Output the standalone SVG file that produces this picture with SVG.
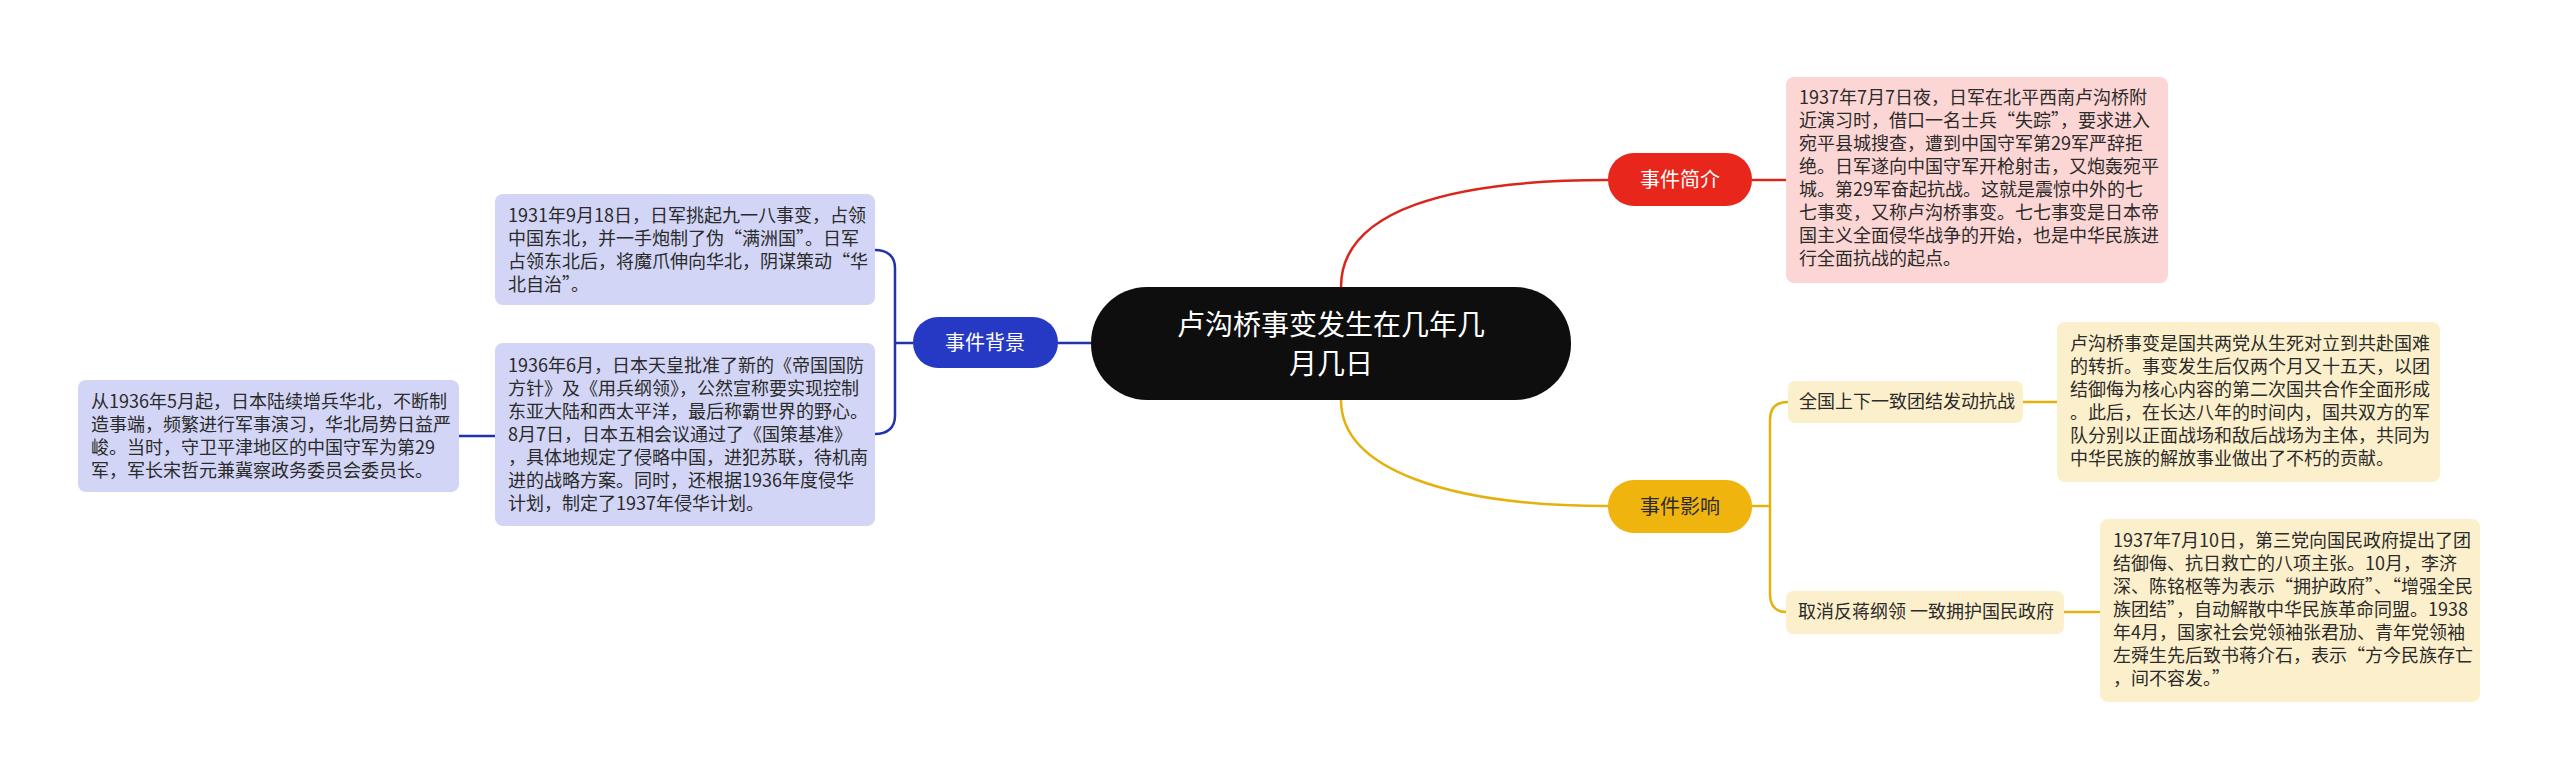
<svg xmlns="http://www.w3.org/2000/svg" width="2560" height="780" viewBox="0 0 2560 780">
<style>
text{font-family:"Noto Sans CJK SC","Noto Sans",sans-serif}
.d{font-size:18px;fill:#2b2b2b}
.c{fill:none;stroke-width:2.5}
.r{stroke:#d9261c}.y{stroke:#e5b10e}.b{stroke:#2233aa}
</style>
<rect width="2560" height="780" fill="#fff"/>
<g id="connectors">
<path class="c r" d="M1341,287 C1341,210 1450,180 1608,180 M1752,180 H1786"/>
<path class="c y" d="M1341,400 C1341,470 1450,506 1608,506 M1752,506 H1770 M1788,402 C1776,402 1770,408 1770,420 V594 C1770,606 1776,612 1786,612 M2023,402 H2057 M2064,612 H2100"/>
<path class="c b" d="M1091,343 H1058 M913,343 H895 M875,250 C887,250 895,256 895,268 V416 C895,428 887,434 875,434 M459,436 H495"/>
</g>
<g id="root"><rect x="1091" y="287" width="480" height="113" rx="56" fill="#0e0e0e"/>
<text x="1331" y="335" font-size="28" fill="#fff" text-anchor="middle">卢沟桥事变发生在几年几</text>
<text x="1331" y="374" font-size="28" fill="#fff" text-anchor="middle">月几日</text></g>
<g id="intro"><rect x="1608" y="153" width="144" height="53" rx="26" fill="#e8261b"/>
<text x="1680" y="187" font-size="20" fill="#fff" text-anchor="middle">事件简介</text></g>
<g id="intro-detail"><rect x="1786" y="77" width="382" height="206" rx="8" fill="#fcd6d4"/>
<text class="d"><tspan x="1799" y="104">1937年7月7日夜，日军在北平西南卢沟桥附</tspan><tspan x="1799" y="127">近演习时，借口一名士兵“失踪”，要求进入</tspan><tspan x="1799" y="150">宛平县城搜查，遭到中国守军第29军严辞拒</tspan><tspan x="1799" y="173">绝。日军遂向中国守军开枪射击，又炮轰宛平</tspan><tspan x="1799" y="196">城。第29军奋起抗战。这就是震惊中外的七</tspan><tspan x="1799" y="219">七事变，又称卢沟桥事变。七七事变是日本帝</tspan><tspan x="1799" y="242">国主义全面侵华战争的开始，也是中华民族进</tspan><tspan x="1799" y="265">行全面抗战的起点。</tspan></text></g>
<g id="impact"><rect x="1608" y="480" width="144" height="53" rx="26" fill="#efb40e"/>
<text x="1680" y="514" font-size="20" fill="#2b2b2b" text-anchor="middle">事件影响</text></g>
<g id="impact1"><rect x="1788" y="381" width="235" height="42" rx="7" fill="#fcf0cc"/>
<text class="d" x="1799" y="408">全国上下一致团结发动抗战</text></g>
<g id="impact1-detail"><rect x="2057" y="322" width="383" height="160" rx="8" fill="#fcf0cc"/>
<text class="d"><tspan x="2070" y="350">卢沟桥事变是国共两党从生死对立到共赴国难</tspan><tspan x="2070" y="373">的转折。事变发生后仅两个月又十五天，以团</tspan><tspan x="2070" y="396">结御侮为核心内容的第二次国共合作全面形成</tspan><tspan x="2070" y="419">。此后，在长达八年的时间内，国共双方的军</tspan><tspan x="2070" y="442">队分别以正面战场和敌后战场为主体，共同为</tspan><tspan x="2070" y="465">中华民族的解放事业做出了不朽的贡献。</tspan></text></g>
<g id="impact2"><rect x="1786" y="591" width="278" height="43" rx="7" fill="#fcf0cc"/>
<text class="d" x="1798" y="618">取消反蒋纲领 一致拥护国民政府</text></g>
<g id="impact2-detail"><rect x="2100" y="519" width="380" height="183" rx="8" fill="#fcf0cc"/>
<text class="d"><tspan x="2113" y="547">1937年7月10日，第三党向国民政府提出了团</tspan><tspan x="2113" y="570">结御侮、抗日救亡的八项主张。10月，李济</tspan><tspan x="2113" y="593">深、陈铭枢等为表示“拥护政府”、“增强全民</tspan><tspan x="2113" y="616">族团结”，自动解散中华民族革命同盟。1938</tspan><tspan x="2113" y="639">年4月，国家社会党领袖张君劢、青年党领袖</tspan><tspan x="2113" y="662">左舜生先后致书蒋介石，表示“方今民族存亡</tspan><tspan x="2113" y="685">，间不容发。”</tspan></text></g>
<g id="background"><rect x="913" y="317" width="145" height="51" rx="25" fill="#2639c4"/>
<text x="985" y="350" font-size="20" fill="#fff" text-anchor="middle">事件背景</text></g>
<g id="bg1"><rect x="495" y="194" width="380" height="111" rx="8" fill="#d2d5f5"/>
<text class="d"><tspan x="508" y="222">1931年9月18日，日军挑起九一八事变，占领</tspan><tspan x="508" y="245">中国东北，并一手炮制了伪“满洲国”。日军</tspan><tspan x="508" y="268">占领东北后，将魔爪伸向华北，阴谋策动“华</tspan><tspan x="508" y="291">北自治”。</tspan></text></g>
<g id="bg2"><rect x="495" y="343" width="380" height="183" rx="8" fill="#d2d5f5"/>
<text class="d"><tspan x="508" y="372">1936年6月，日本天皇批准了新的《帝国国防</tspan><tspan x="508" y="395">方针》及《用兵纲领》，公然宣称要实现控制</tspan><tspan x="508" y="418">东亚大陆和西太平洋，最后称霸世界的野心。</tspan><tspan x="508" y="441">8月7日，日本五相会议通过了《国策基准》</tspan><tspan x="508" y="464">，具体地规定了侵略中国，进犯苏联，待机南</tspan><tspan x="508" y="487">进的战略方案。同时，还根据1936年度侵华</tspan><tspan x="508" y="510">计划，制定了1937年侵华计划。</tspan></text></g>
<g id="bg2-detail"><rect x="78" y="380" width="381" height="112" rx="8" fill="#d2d5f5"/>
<text class="d"><tspan x="91" y="408">从1936年5月起，日本陆续增兵华北，不断制</tspan><tspan x="91" y="431">造事端，频繁进行军事演习，华北局势日益严</tspan><tspan x="91" y="454">峻。当时，守卫平津地区的中国守军为第29</tspan><tspan x="91" y="477">军，军长宋哲元兼冀察政务委员会委员长。</tspan></text></g>
</svg>
